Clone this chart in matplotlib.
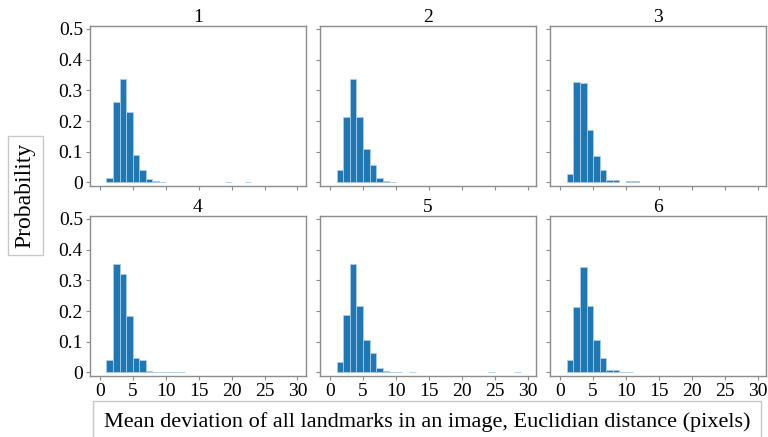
import matplotlib.pyplot as plt
import numpy as np

plt.rcParams['font.family'] = ['Liberation Serif', 'DejaVu Serif']

# histogram bin edges (pixels) and probability per 1-pixel bin for each landmark model
edges = list(range(0, 31))
probs_1 = [0, 0.014, 0.263, 0.337, 0.229, 0.088, 0.042, 0.010, 0.005, 0.003,
           0, 0, 0, 0, 0, 0, 0, 0, 0, 0.003,
           0, 0, 0.003, 0, 0, 0, 0, 0, 0, 0]
probs_2 = [0, 0.040, 0.212, 0.338, 0.212, 0.108, 0.058, 0.013, 0.004, 0.003,
           0, 0, 0, 0, 0, 0, 0, 0, 0, 0,
           0, 0, 0, 0, 0, 0, 0, 0, 0, 0]
probs_3 = [0, 0.027, 0.328, 0.323, 0.172, 0.085, 0.041, 0.008, 0.008, 0,
           0.004, 0.004, 0, 0, 0, 0, 0, 0, 0, 0,
           0, 0, 0, 0, 0, 0, 0, 0, 0, 0]
probs_4 = [0, 0.041, 0.354, 0.321, 0.183, 0.048, 0.039, 0.004, 0.003, 0.003,
           0.003, 0.003, 0.003, 0, 0, 0, 0, 0, 0, 0,
           0, 0, 0, 0, 0, 0, 0, 0, 0, 0]
probs_5 = [0, 0.033, 0.187, 0.353, 0.218, 0.105, 0.062, 0.015, 0.004, 0.003,
           0.003, 0, 0.002, 0, 0, 0, 0, 0, 0, 0,
           0, 0, 0, 0, 0.002, 0, 0, 0, 0.002, 0]
probs_6 = [0, 0.042, 0.214, 0.345, 0.216, 0.105, 0.047, 0.007, 0.007, 0.002,
           0.002, 0, 0, 0, 0, 0, 0, 0, 0, 0,
           0, 0, 0, 0, 0, 0, 0, 0, 0, 0]
all_probs = [probs_1, probs_2, probs_3, probs_4, probs_5, probs_6]
titles = ['1', '2', '3', '4', '5', '6']

fig, axes = plt.subplots(2, 3, figsize=(7.68, 4.37), dpi=100, sharex=True, sharey=True)
plt.subplots_adjust(left=0.117, right=0.998, top=0.94, bottom=0.14, wspace=0.065, hspace=0.19)

for ax, probs, title in zip(axes.flat, all_probs, titles):
    n, b, patches = ax.hist(edges[:-1], bins=edges, weights=probs, color='#1f77b4',
                            edgecolor='#a9cbe8', linewidth=0.6)
    # empty bins should not leave an outline along the baseline
    for p, h in zip(patches, n):
        if h == 0:
            p.set_visible(False)
    ax.set_title(title, fontsize=14, pad=2)
    ax.set_xlim(-1.5, 31.3)
    ax.set_ylim(-0.011, 0.509)
    ax.set_xticks([0, 5, 10, 15, 20, 25, 30])
    ax.set_yticks([0, 0.1, 0.2, 0.3, 0.4, 0.5])
    ax.set_yticklabels(['0', '0.1', '0.2', '0.3', '0.4', '0.5'])
    for s in ax.spines.values():
        s.set_color('#8c8c8c')
        s.set_linewidth(1.0)
    ax.tick_params(colors='#8c8c8c', labelcolor='black', labelsize=14, length=3, width=0.8, pad=2)

fig.text(0.033, 0.553, 'Probability', rotation=90, ha='center', va='center', fontsize=17,
         bbox=dict(facecolor='white', edgecolor='#c8c8c8', boxstyle='square,pad=0.3'))
fig.text(0.556, 0.035, 'Mean deviation of all landmarks in an image, Euclidian distance (pixels)',
         ha='center', va='center', fontsize=16,
         bbox=dict(facecolor='white', edgecolor='#c8c8c8', boxstyle='square,pad=0.5'))

plt.savefig('out.png')
